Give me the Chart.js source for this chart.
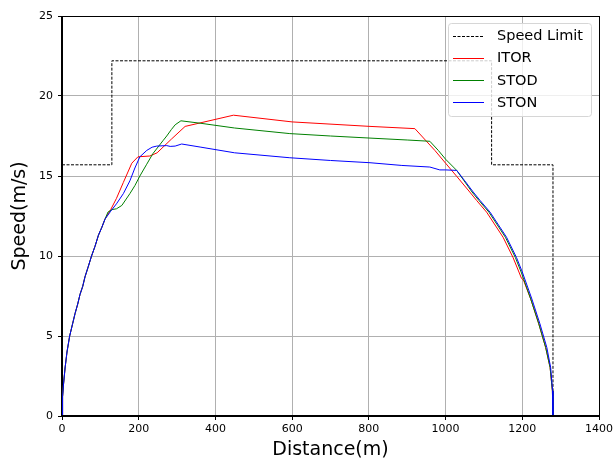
<!DOCTYPE html>
<html>
<head>
<meta charset="utf-8">
<script src="https://cdn.jsdelivr.net/npm/chart.js@4"></script>
<style>
  body { margin: 0; background: #fff; }
  canvas { display: block; }
</style>
</head>
<body>
<canvas id="speedChart" width="613" height="462"></canvas>
<script>
// --- data ---
const limitDist  = [0, 130, 130, 1120, 1120, 1280, 1280];
const limitSpeed = [15.7, 15.7, 22.2, 22.2, 15.7, 15.7, 0];

// common acceleration part (all three runs overlap here)
const accelDist  = [0, 1, 2, 4, 8, 13, 20, 28, 34, 41, 47, 54, 60, 68, 77, 86, 95, 104, 112];
const accelSpeed = [0, 0.7, 1.2, 2.0, 3.0, 4.0, 5.0, 5.8, 6.4, 7.0, 7.6, 8.1, 8.7, 9.3, 10.0, 10.6, 11.3, 11.8, 12.3];

const itorDist  = [127, 142, 160, 182, 198, 229, 248, 285, 321, 447, 600, 803, 920, 972, 1000, 1030, 1063, 1081, 1107, 1150, 1176, 1198, 1203, 1222, 1243, 1261, 1272.5, 1278.5, 1280];
const itorSpeed = [12.9, 13.6, 14.6, 15.8, 16.2, 16.25, 16.45, 17.3, 18.1, 18.8, 18.38, 18.1, 17.96, 16.6, 15.8, 14.95, 14.0, 13.47, 12.74, 11.17, 9.9, 8.6, 8.5, 7.31, 5.76, 4.28, 3.03, 1.57, 0];

const stodDist  = [120, 130, 142, 156, 177, 190, 203, 220, 237, 263, 273, 285, 295, 310, 360, 450, 594, 700, 803, 900, 959, 981, 1000, 1029, 1069, 1087, 1113, 1156, 1182, 1197, 1222, 1243, 1261, 1272.5, 1278.5, 1280];
const stodSpeed = [12.75, 12.9, 12.95, 13.16, 13.9, 14.4, 15.0, 15.7, 16.4, 17.2, 17.5, 17.9, 18.2, 18.45, 18.3, 18.0, 17.65, 17.5, 17.37, 17.25, 17.17, 16.6, 16.05, 15.35, 14.0, 13.47, 12.74, 11.17, 9.9, 9.0, 7.31, 5.76, 4.28, 3.03, 1.57, 0];

const stonDist  = [127, 142, 160, 177, 190, 203, 221, 235, 247, 273, 282, 295, 312, 360, 450, 594, 700, 803, 886, 959, 985, 1000, 1029, 1050, 1072, 1090, 1116, 1159, 1185, 1200, 1225, 1246, 1264, 1274, 1279, 1280];
const stonSpeed = [12.8, 13.26, 13.9, 14.7, 15.5, 16.2, 16.6, 16.8, 16.87, 16.9, 16.85, 16.87, 17.0, 16.81, 16.45, 16.14, 15.97, 15.83, 15.66, 15.56, 15.38, 15.38, 15.35, 14.7, 14.0, 13.47, 12.74, 11.17, 9.9, 9.0, 7.31, 5.76, 4.28, 3.03, 1.57, 0];

const xTicksMax = 1400;
const yTicksMax = 25;

function toPoints(xs, ys) {
    return xs.map((x, i) => ({ x: x, y: ys[i] }));
}
function withAccel(xs, ys) {
    return toPoints(accelDist.concat(xs), accelSpeed.concat(ys));
}

const FONT = "'DejaVu Sans', sans-serif";

// 범례 + 위/오른쪽 테두리 (matplotlib 스타일)
const frameLegendPlugin = {
    id: "frameLegend",
    afterDatasetsDraw(chart) {
        const { ctx, chartArea: { left, right, top, bottom } } = chart;
        ctx.save();
        ctx.strokeStyle = "#000";
        ctx.lineWidth = 1;
        ctx.strokeRect(Math.round(left) - 0.5, Math.round(top) + 0.5,
            Math.round(right - left) + 1, Math.round(bottom - top) - 1);

        // legend box
        const bx = 448.5, by = 23.5, bw = 143, bh = 93, r = 3;
        ctx.beginPath();
        ctx.moveTo(bx + r, by);
        ctx.arcTo(bx + bw, by, bx + bw, by + bh, r);
        ctx.arcTo(bx + bw, by + bh, bx, by + bh, r);
        ctx.arcTo(bx, by + bh, bx, by, r);
        ctx.arcTo(bx, by, bx + bw, by, r);
        ctx.closePath();
        ctx.fillStyle = "rgba(255,255,255,0.8)";
        ctx.fill();
        ctx.strokeStyle = "#d6d6d6";
        ctx.stroke();

        const items = [
            { label: "Speed Limit", color: "#000", dash: [3, 1.5] },
            { label: "ITOR", color: "#ff0000", dash: [] },
            { label: "STOD", color: "#008000", dash: [] },
            { label: "STON", color: "#0000ff", dash: [] }
        ];
        ctx.font = "14.5px " + FONT;
        ctx.textBaseline = "middle";
        ctx.textAlign = "left";
        items.forEach((it, i) => {
            const y = 35.5 + i * 22.2;
            ctx.beginPath();
            ctx.setLineDash(it.dash);
            ctx.strokeStyle = it.color;
            ctx.lineWidth = 1;
            ctx.moveTo(453, Math.round(y) + 0.5);
            ctx.lineTo(484, Math.round(y) + 0.5);
            ctx.stroke();
            ctx.setLineDash([]);
            ctx.fillStyle = "#000";
            ctx.fillText(it.label, 497, y + 1);
        });
        ctx.restore();
    }
};

const ctx = document.getElementById("speedChart").getContext("2d");
new Chart(ctx, {
    type: "line",
    data: {
        datasets: [
            {
                label: "Speed Limit",
                data: toPoints(limitDist, limitSpeed),
                borderColor: "#000",
                borderDash: [3, 1.5],
                borderWidth: 1,
                order: 4
            },
            {
                label: "ITOR",
                data: withAccel(itorDist, itorSpeed),
                borderColor: "#ff0000",
                borderWidth: 1,
                order: 3
            },
            {
                label: "STOD",
                data: withAccel(stodDist, stodSpeed),
                borderColor: "#008000",
                borderWidth: 1,
                order: 2
            },
            {
                label: "STON",
                data: withAccel(stonDist, stonSpeed),
                borderColor: "#0000ff",
                borderWidth: 1,
                order: 1
            }
        ]
    },
    options: {
        responsive: false,
        animation: false,
        devicePixelRatio: 1,
        parsing: false,
        elements: {
            point: { radius: 0, hoverRadius: 0 },
            line: { tension: 0, fill: false }
        },
        layout: { padding: { top: 16, right: 14, left: 0, bottom: 0 } },
        plugins: {
            legend: { display: false },
            tooltip: { enabled: false }
        },
        scales: {
            x: {
                type: "linear",
                min: 0,
                max: xTicksMax,
                afterFit: (scale) => {
                    scale.height = 46;
                    scale.paddingLeft = 0;
                    scale.paddingRight = 0;
                },
                ticks: { stepSize: 200, color: "#000", font: { family: FONT, size: 11 }, padding: 3, maxRotation: 0,
                    callback: (v) => String(v) },
                grid: { color: "#b0b0b0", lineWidth: 1, tickColor: "#000", tickLength: 4 },
                border: { color: "#000", width: 1 },
                title: { display: true, text: "Distance(m)", color: "#000", font: { family: FONT, size: 19 }, padding: { top: 0, bottom: 1 } }
            },
            y: {
                type: "linear",
                min: 0,
                max: yTicksMax,
                afterFit: (scale) => {
                    scale.width = 62;
                    scale.paddingTop = 0;
                    scale.paddingBottom = 0;
                },
                ticks: { stepSize: 5, color: "#000", font: { family: FONT, size: 11 }, padding: 5,
                    callback: (v) => String(v) },
                grid: { color: "#b0b0b0", lineWidth: 1, tickColor: "#000", tickLength: 4 },
                border: { color: "#000", width: 1 },
                title: { display: true, text: "Speed(m/s)", color: "#000", font: { family: FONT, size: 19 }, padding: { top: 9, bottom: 0 } }
            }
        }
    },
    plugins: [frameLegendPlugin]
});
</script>
</body>
</html>
